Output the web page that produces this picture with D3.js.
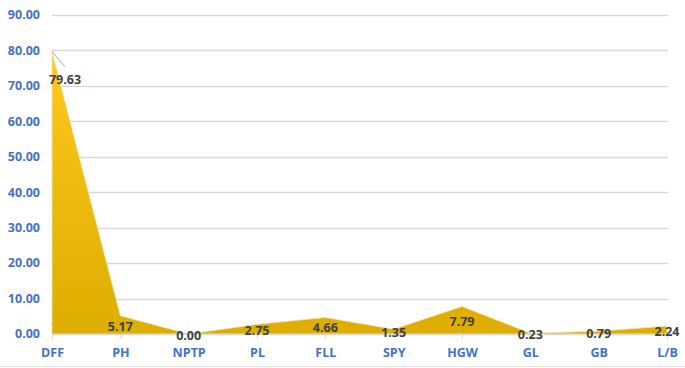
<!DOCTYPE html>
<html><head><meta charset="utf-8">
<script src="https://cdn.jsdelivr.net/npm/d3@7"></script>
<style>body{margin:0;background:#fff;}svg{display:block;}</style>
</head><body>
<script>
const categories = ["DFF","PH","NPTP","PL","FLL","SPY","HGW","GL","GB","L/B"];
const values = [79.63,5.17,0.00,2.75,4.66,1.35,7.79,0.23,0.79,2.24];
const yTicks = [0,10,20,30,40,50,60,70,80,90];

const W=685,H=368;
const svg=d3.select("body").append("svg").attr("width",W).attr("height",H);
const x=d3.scalePoint().domain(categories).range([52,667]);
const y=d3.scaleLinear().domain([0,90]).range([334,15]);

const defs=svg.append("defs");
const g=defs.append("linearGradient").attr("id","gf").attr("x1",0).attr("y1",0).attr("x2",0).attr("y2",1);
g.append("stop").attr("offset","0%").attr("stop-color","#FFC81E");
g.append("stop").attr("offset","100%").attr("stop-color","#DDAD00");

// bottom frame line
svg.append("line").attr("x1",0).attr("x2",W).attr("y1",366.5).attr("y2",366.5).attr("stroke","#e4e4e4");

// grid
svg.append("g").selectAll("line").data(yTicks.filter(d=>d>0)).join("line")
  .attr("x1",52).attr("x2",668).attr("y1",d=>Math.round(y(d))+0.5).attr("y2",d=>Math.round(y(d))+0.5)
  .attr("stroke","#d9d9d9").attr("stroke-width",1.3);

// y labels
svg.append("g").selectAll("text").data(yTicks).join("text")
  .attr("x",40).attr("y",d=>y(d)).attr("dy","0.35em").attr("text-anchor","end")
  .attr("font-family","Open Sans, sans-serif").attr("font-weight","bold").attr("font-size",12.5)
  .attr("fill","#4472C4").text(d=>d.toFixed(2));

// area
const area=d3.area().x((d,i)=>x(categories[i])).y0(y(0)).y1(d=>y(d));
svg.append("path").datum(values).attr("d",area).attr("fill","url(#gf)")
  .attr("stroke","#f3e6b8").attr("stroke-width",0.8);

// x axis
const xa=svg.append("g").attr("transform",`translate(0,${y(0)})`).call(d3.axisBottom(x).tickSize(5).tickSizeOuter(0));
xa.select(".domain").attr("stroke","#d9d9d9").attr("stroke-width",1.3);
xa.selectAll(".tick line").attr("stroke","#d9d9d9");
xa.selectAll(".tick text").attr("y",14).attr("dy","0.71em")
  .attr("font-family","Open Sans, sans-serif").attr("font-weight","bold").attr("font-size",12.5).attr("fill","#4472C4");

// leader line for first label
svg.append("line").attr("x1",x(categories[0])).attr("y1",y(values[0]))
  .attr("x2",x(categories[0])+13).attr("y2",y(values[0])+15).attr("stroke","#a6a6a6").attr("stroke-width",1);

// data labels
svg.append("g").selectAll("text").data(values).join("text")
  .attr("x",(d,i)=> i===0 ? x(categories[i])+13 : x(categories[i]))
  .attr("y",(d,i)=> i===0 ? y(d)+28 : Math.min((y(d)+y(0))/2+1.5, y(0)+2))
  .attr("dy","0.35em").attr("text-anchor","middle")
  .attr("font-family","Open Sans, sans-serif").attr("font-weight","bold").attr("font-size",12.5)
  .attr("fill","#404040").text(d=>d.toFixed(2));
</script>
</body></html>
